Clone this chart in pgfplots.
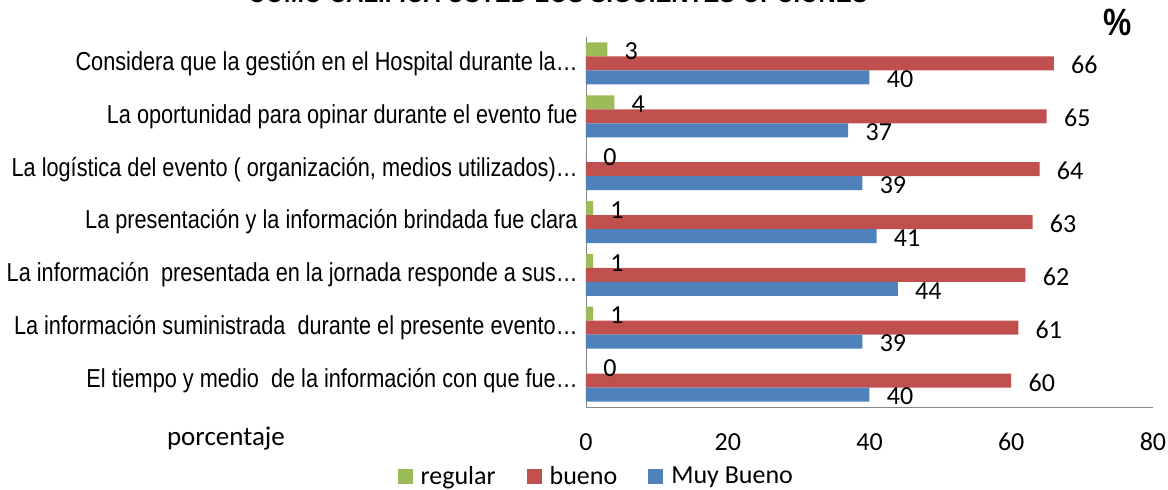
\documentclass[border=0pt]{standalone}
\usepackage{fontspec}
\setmainfont{Carlito}
\newfontfamily\catfont{Liberation Sans}[FakeStretch=0.835]
\usepackage{pgfplots}
\pgfplotsset{compat=1.18}
\definecolor{cgreen}{HTML}{9BBB59}
\definecolor{cred}{HTML}{C0504D}
\definecolor{cblue}{HTML}{4F81BD}
\definecolor{axisgray}{HTML}{868686}

\pgfplotsset{
  sq legend/.style={legend image code/.code={\fill[##1] (0pt,-3.75pt) rectangle (7.5pt,3.75pt); \path (10pt,0pt);}},
}

\begin{document}
\begin{tikzpicture}
\begin{axis}[/pgf/number format/assume math mode=true,
  at={(293pt,-203.5pt)}, anchor=south west,
  scale only axis, width=283.5pt, height=185pt,
  xbar, bar width=7pt,
  xmin=0, xmax=80, ymin=0.5, ymax=7.5,
  xtick={0,20,40,60,80}, ytick={1,2,3,4,5,6,7},
  yticklabels={
    El tiempo y medio\ \ de la información con que fue…,
    La información suministrada\ \ durante el presente evento…,
    La información\ \ presentada en la jornada responde a sus…,
    La presentación y la información brindada fue clara\ ,
    La logística del evento ( organización{,} medios utilizados)…,
    La oportunidad para opinar durante el evento fue\ ,
    Considera que la gestión en el Hospital durante la…},
  axis x line*=bottom, axis y line*=left,
  axis line style={-, axisgray},
  major tick length=0pt,
  xticklabel style={font=\fontsize{13}{15}\selectfont, anchor=base, yshift=-21.5pt},
  yticklabel style={font=\catfont\fontsize{13}{15}\selectfont, anchor=east, inner sep=0pt, xshift=-4pt},
  xlabel={porcentaje},
  xlabel style={font=\fontsize{13.5}{15}\selectfont, at={(axis description cs:-0.635,-0.105)}, anchor=base},
  nodes near coords,
  every node near coord/.append style={font=\fontsize{13}{15}\selectfont, black, anchor=west, inner sep=0pt, xshift=8.5pt, yshift=-0.9pt},
  legend style={at={(0.019,-0.189)}, anchor=center, draw=none, fill=none,
    legend columns=-1, font=\fontsize{13}{15}\selectfont,
    nodes={inner sep=1.5pt},
    /tikz/every even column/.append style={column sep=14pt}},
]
\addplot[fill=cgreen, draw=none, bar shift=7pt, sq legend] coordinates {
  (0,1) (1,2) (1,3) (1,4) (0,5) (4,6) (3,7)
};
\addlegendentry{regular}
\addplot[fill=cred, draw=none, bar shift=0pt, sq legend] coordinates {
  (60,1) (61,2) (62,3) (63,4) (64,5) (65,6) (66,7)
};
\addlegendentry{bueno}
\addplot[fill=cblue, draw=none, bar shift=-7pt, sq legend] coordinates {
  (40,1) (39,2) (44,3) (41,4) (39,5) (37,6) (40,7)
};
\addlegendentry{Muy Bueno}
\end{axis}
\node[font=\catfont\bfseries\fontsize{14.3}{17}\selectfont, anchor=base] at (279pt,-1.2pt)
  {COMO CALIFICA USTED LOS SIGUIENTES OPCIONES};
\node[font=\catfont\bfseries\fontsize{19}{21}\selectfont, anchor=base, inner sep=0pt] at (559pt,-17.5pt) {\%};
\pgfresetboundingbox
\useasboundingbox (0,0) rectangle (584pt,-244.5pt);
\end{tikzpicture}
\end{document}
